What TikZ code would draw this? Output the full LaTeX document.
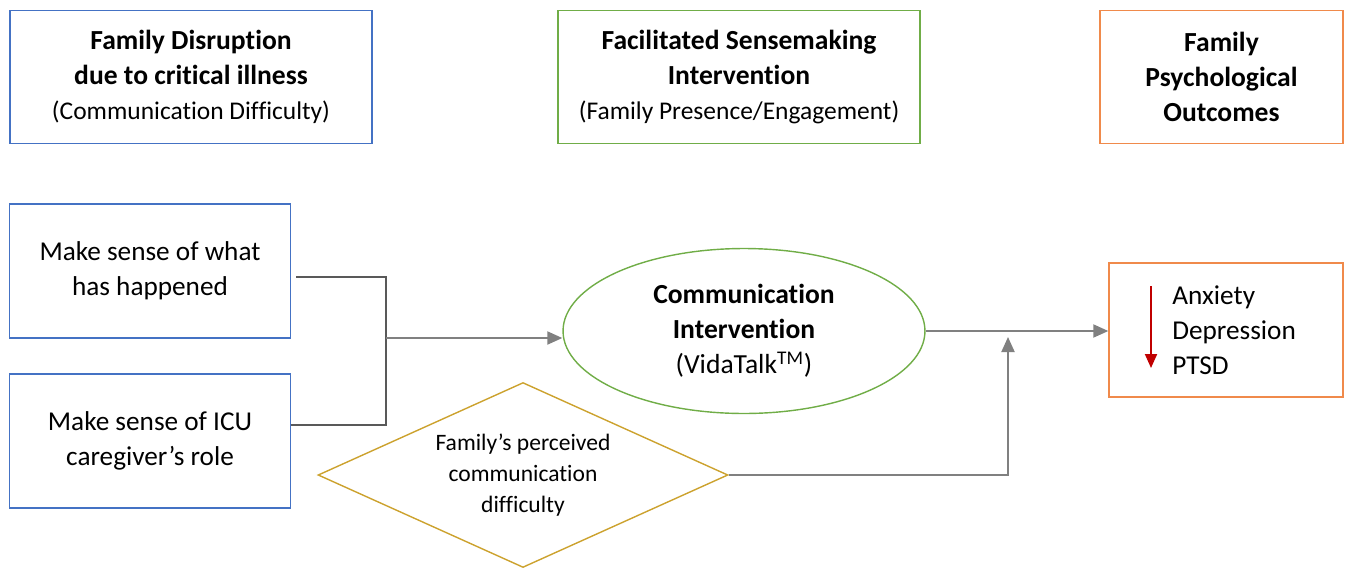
\documentclass[tikz,border=0pt]{standalone}
\usepackage{fontspec}
\setmainfont{Carlito}[Ligatures=NoCommon]
\usetikzlibrary{shapes.geometric,arrows.meta}
\definecolor{boxblue}{HTML}{4472C4}
\definecolor{boxgreen}{HTML}{70AD47}
\definecolor{boxorange}{HTML}{F08A4B}
\definecolor{boxgold}{HTML}{CCA22E}
\definecolor{linkgray}{HTML}{808080}
\definecolor{darkred}{HTML}{C00000}
\newcommand{\mainfs}{\fontsize{15.7}{20}\selectfont}
\newcommand{\subfs}{\fontsize{14.5}{20}\selectfont}
\begin{document}
\begin{tikzpicture}[x=0.02cm, y=-0.02cm,
  hdrbox/.style={draw, line width=0.8pt, rectangle, minimum height=2.66cm, align=center, inner sep=0pt, font=\mainfs},
  link/.style={draw=linkgray, line width=1.1pt},
  arr/.style={link, -{Triangle[length=0.3cm, width=0.26cm]}}]
\useasboundingbox (0,0) rectangle (1352,572);
% Top row headings
\node[hdrbox, draw=boxblue, minimum width=7.24cm] (disrupt) at (191,77) {\textbf{Family Disruption}\\ \textbf{due to critical illness}\\ {\subfs (Communication Difficulty)}};
\node[hdrbox, draw=boxgreen, minimum width=7.24cm] (sensemk) at (739,77) {\textbf{Facilitated Sensemaking}\\ \textbf{Intervention}\\ {\subfs (Family Presence/Engagement)}};
\node[hdrbox, draw=boxorange, minimum width=4.86cm] (outhdr) at (1221.5,77) {\textbf{Family}\\ \textbf{Psychological}\\ \textbf{Outcomes}};
% Sensemaking needs
\node[hdrbox, draw=boxblue, minimum width=5.62cm, minimum height=2.68cm, font=\fontsize{15.5}{20}\selectfont] (happened) at (150,271) {Make sense of what\\ has happened};
\node[hdrbox, draw=boxblue, minimum width=5.62cm, minimum height=2.68cm, font=\fontsize{15.5}{20}\selectfont] (icurole) at (150,441) {Make sense of ICU\\ caregiver’s role};
% Intervention and moderator
\node[draw=boxgreen, line width=0.8pt, ellipse, minimum width=7.24cm, minimum height=3.3cm, inner sep=0pt, align=center, font=\mainfs] (comm) at (744,331) {\textbf{Communication}\\ \textbf{Intervention}\\ (VidaTalk\textsuperscript{TM})};
\node[draw=boxgold, line width=0.8pt, diamond, aspect=2.2, minimum width=8.2cm, minimum height=3.7cm, inner sep=0pt, align=center, font=\fontsize{13.4}{17.6}\selectfont] (perceived) at (523,475) {Family’s perceived\\ communication\\ difficulty};
% Outcomes
\node[hdrbox, draw=boxorange, minimum width=4.68cm, minimum height=2.68cm] (outcomes) at (1226,330) {};
\node[anchor=west, align=left, inner sep=0pt, font=\fontsize{15.5}{19.9}\selectfont] (outtext) at (1172,330) {Anxiety\\ Depression\\ PTSD};
\coordinate (downtop) at (1151,286);
\coordinate (downbot) at (1151,368);
\draw[darkred, line width=1.1pt, -{Triangle[length=0.28cm, width=0.24cm]}] (downtop) -- (downbot);
% Connectors
\coordinate (join) at (386,338);
\coordinate (modpt) at (1008,337);
\draw[link, draw=black!65] ([xshift=0.1cm, yshift=-0.12cm]happened.east) -| (join) |- ([yshift=0.32cm]icurole.east);
\draw[arr] (join) -- (join -| comm.west);
\draw[arr] (comm.east) -- (comm.east -| outcomes.west);
\draw[arr] (perceived.east) -| (modpt);
\end{tikzpicture}
\end{document}
